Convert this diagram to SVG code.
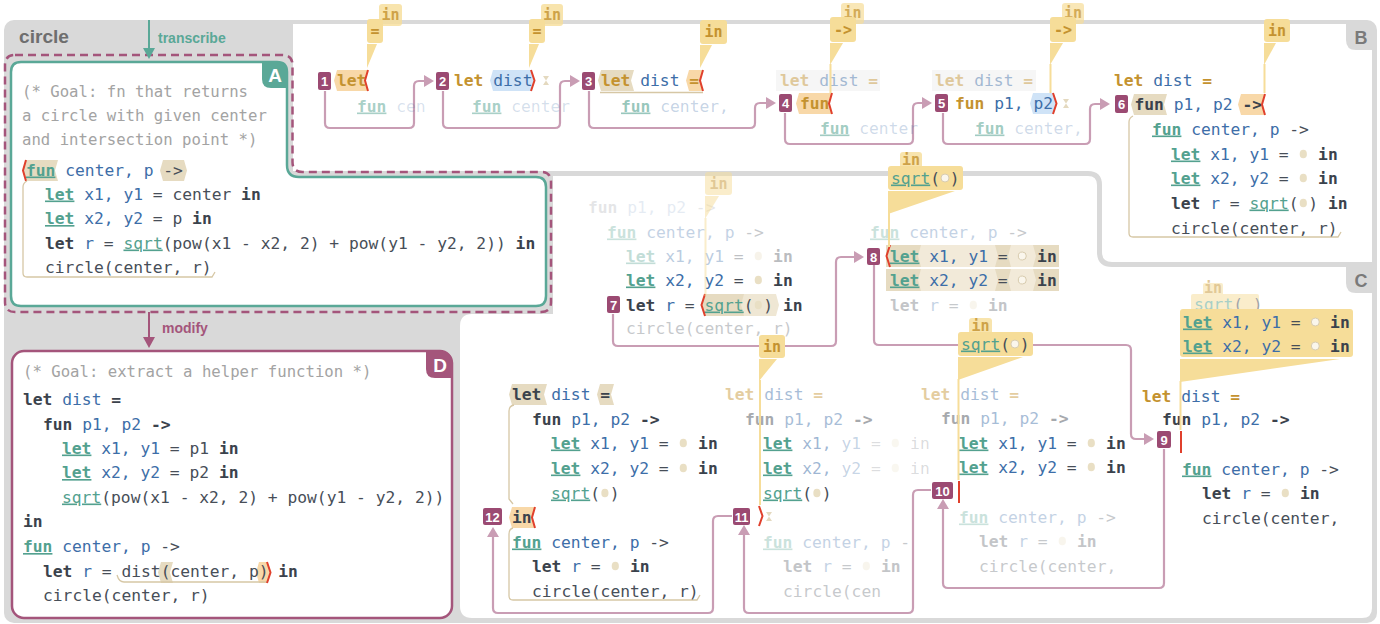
<svg xmlns="http://www.w3.org/2000/svg" width="1380" height="624" viewBox="0 0 1380 624" xml:space="preserve">
<defs>
<style>
text{white-space:pre}
.c{font-family:"DejaVu Sans Mono",monospace;font-size:16.3px;fill:#474e58}
.k{font-weight:bold;fill:#3b424c}
.t{font-weight:bold;fill:#53a18f;text-decoration:underline}
.s{fill:#53a18f;text-decoration:underline}
.i{fill:#3d6ea8}
.g{font-weight:bold;fill:#c4922f}
.cm{font-family:"DejaVu Sans Mono",monospace;font-size:15.65px;fill:#a3a3a3}
.co{fill:#f6dd99}
.ct{font-family:"DejaVu Sans Mono",monospace;font-size:15px;font-weight:bold;fill:#c4922f;text-anchor:middle}
.bd rect{fill:#9b4a72}
.bd text{font-family:"Liberation Sans",Arial,sans-serif;font-size:13px;font-weight:bold;fill:#fff;text-anchor:middle}
.cn{fill:none;stroke:#c99db4;stroke-width:2.2}
.rb{fill:none;stroke:#e0402c;stroke-width:2}
.pe{fill:#f8d8a8}
.tn{fill:#e6dbc1}
.bl{fill:#cfe3f7}
.fr{fill:none;stroke:#d6c7a5;stroke-width:1.3}
.dot{fill:#e9dfc4}
.ring{fill:#faf6ec;stroke:#d8ccaf;stroke-width:1}
.yl{stroke:#f6dd99;stroke-width:2;fill:none}
.hg{fill:#e4d9bf}
.tab{font-family:"Liberation Sans",Arial,sans-serif;font-weight:bold;text-anchor:middle}
</style>
<marker id="ah" viewBox="0 0 10 12" refX="6" refY="6" markerWidth="10" markerHeight="12" markerUnits="userSpaceOnUse" orient="auto"><path d="M0,0 L10,6 L0,12 z" fill="#c99db4"/></marker>
</defs>
<rect width="1380" height="624" fill="#ffffff"/>
<g id="panels">
<rect x="4" y="20" width="1373" height="603" rx="10" fill="#d9d9d9"/>
<path d="M293,24 H1362 Q1372,24 1372,34 V608 Q1372,618 1362,618 H472 Q460,618 460,606 V326 Q460,314 472,314 H553 V171 H293 Z" fill="#ffffff"/>
<path d="M293,173.5 H1088 Q1099.5,173.5 1099.5,185 V252 Q1099.5,264.5 1112,264.5 H1372" fill="none" stroke="#d9d9d9" stroke-width="5"/>
<path d="M1346,24 H1372 V50 H1356 Q1346,50 1346,40 Z" fill="#d9d9d9"/>
<text class="tab" x="1361" y="44" font-size="18" fill="#7a7a7a">B</text>
<path d="M1346,267 H1372 V293 H1356 Q1346,293 1346,283 Z" fill="#d9d9d9"/>
<text class="tab" x="1361" y="287" font-size="18" fill="#7a7a7a">C</text>
<text x="19" y="43" font-family="Liberation Sans, Arial, sans-serif" font-weight="bold" font-size="18" fill="#6e6e6e" textLength="50" lengthAdjust="spacingAndGlyphs">circle</text>
</g>
<g id="nodeA">
<path d="M21,62 H277 Q287,62 287,72 V165 Q287,177 299,177 H536 Q546,177 546,187 V296 Q546,306 536,306 H21 Q11,306 11,296 V72 Q11,62 21,62 Z" fill="#ffffff" stroke="#5aa897" stroke-width="2.5"/>
<path d="M15,55 H282 Q292.5,55 292.5,65 V162 Q292.5,172 302.5,172 H541 Q551,172 551,182 V302 Q551,312 541,312 H15 Q5,312 5,302 V65 Q5,55 15,55 Z" fill="none" stroke="#a4557b" stroke-width="2.5" stroke-dasharray="8 5"/>
<path d="M262,62 H277 Q287,62 287,72 V88 H271 Q262,88 262,79 Z" fill="#5aa897"/>
<text class="tab" x="275" y="82" font-size="19" fill="#ffffff">A</text>
<text class="cm" x="22" y="97">(* Goal: fn that returns</text>
<text class="cm" x="22" y="121">a circle with given center</text>
<text class="cm" x="22" y="145">and intersection point *)</text>
<polygon class="tn" points="23,170.5 26,160 58,160 55,170.5 58,181 26,181"/>
<polygon class="tn" points="160,170.5 163,160 184,160 187,170.5 184,181 163,181"/>
<polyline class="rb" points="26,160 23,170.5 26,181"/>
<path class="fr" d="M27,181 Q23,183 23,187 V273 Q23,277 27,277 H212 L215,272"/>
<text class="c" x="26" y="175.5"><tspan class="t">fun</tspan> <tspan class="i">center, p</tspan> -&gt;</text>
<text class="c" x="45" y="199.5"><tspan class="t">let</tspan> <tspan class="i">x1, y1</tspan> = center <tspan class="k">in</tspan></text>
<text class="c" x="45" y="224"><tspan class="t">let</tspan> <tspan class="i">x2, y2</tspan> = p <tspan class="k">in</tspan></text>
<text class="c" x="45" y="248.5"><tspan class="k">let</tspan> <tspan class="i">r</tspan> = <tspan class="s">sqrt</tspan>(pow(x1 - x2, 2) + pow(y1 - y2, 2)) <tspan class="k">in</tspan></text>
<text class="c" x="45" y="273">circle(center, r)</text>
</g>
<g id="nodeD">
<rect x="12" y="351" width="440" height="267" rx="12" fill="#ffffff" stroke="#a4557b" stroke-width="2.5"/>
<path d="M426,351 H440 Q452,351 452,363 V378 H435 Q426,378 426,369 Z" fill="#a4557b"/>
<text class="tab" x="440" y="372" font-size="19" fill="#ffffff">D</text>
<text class="cm" x="23" y="377">(* Goal: extract a helper function *)</text>
<text class="c" x="23" y="404.5"><tspan class="k">let</tspan> <tspan class="i">dist</tspan> <tspan class="k">=</tspan></text>
<text class="c" x="43" y="429.5"><tspan class="k">fun</tspan> <tspan class="i">p1, p2</tspan> <tspan class="k">-&gt;</tspan></text>
<text class="c" x="62" y="453.5"><tspan class="t">let</tspan> <tspan class="i">x1, y1</tspan> = p1 <tspan class="k">in</tspan></text>
<text class="c" x="62" y="478"><tspan class="t">let</tspan> <tspan class="i">x2, y2</tspan> = p2 <tspan class="k">in</tspan></text>
<text class="c" x="62" y="502.5"><tspan class="s">sqrt</tspan>(pow(x1 - x2, 2) + pow(y1 - y2, 2))</text>
<text class="c" x="23" y="527"><tspan class="k">in</tspan></text>
<text class="c" x="23" y="552"><tspan class="t">fun</tspan> <tspan class="i">center, p</tspan> -&gt;</text>
<polygon class="tn" points="158,572.5 161,562 173,562 170,572.5 173,583 161,583"/>
<polygon class="pe" points="256,572.5 259,562 267,562 270,572.5 267,583 259,583"/>
<path class="fr" d="M117,575 Q119,582 124,582 H268"/>
<polyline class="rb" points="267,562 270.5,572.5 267,583"/>
<text class="c" x="43" y="576.5"><tspan class="k">let</tspan> <tspan class="i">r</tspan> = dist(center, p) <tspan class="k">in</tspan></text>
<text class="c" x="43" y="601">circle(center, r)</text>
</g>
<g id="connectors">
<path d="M149,20 V49" stroke="#5aa897" stroke-width="2"/>
<polygon points="143,48 155,48 149,59" fill="#5aa897"/>
<text x="158" y="43" font-family="Liberation Sans, Arial, sans-serif" font-weight="bold" font-size="14" fill="#5aa897">transcribe</text>
<path d="M149,312 V338" stroke="#a4557b" stroke-width="2"/>
<polygon points="143,337 155,337 149,348" fill="#a4557b"/>
<text x="162" y="333" font-family="Liberation Sans, Arial, sans-serif" font-weight="bold" font-size="14" fill="#a4557b">modify</text>
<path class="cn" marker-end="url(#ah)" d="M325,91 V123 Q325,128 330,128 H409 Q414,128 414,123 V86 Q414,81 419,81 H430"/>
<path class="cn" marker-end="url(#ah)" d="M443,91 V123 Q443,128 448,128 H555 Q560,128 560,123 V86 Q560,81 565,81 H576"/>
<path class="cn" marker-end="url(#ah)" d="M589,91 V123 Q589,128 594,128 H750 Q755,128 755,123 V108 Q755,103 760,103 H772"/>
<path class="cn" marker-end="url(#ah)" d="M785,113 V139 Q785,144 790,144 H908 Q913,144 913,139 V108 Q913,103 918,103 H928"/>
<path class="cn" marker-end="url(#ah)" d="M943,113 V139 Q943,144 948,144 H1085 Q1090,144 1090,139 V109 Q1090,104 1095,104 H1106"/>
<path class="cn" marker-end="url(#ah)" d="M613,314 V341 Q613,346 618,346 H831 Q836,346 836,341 V262 Q836,257 841,257 H860"/>
<path class="cn" marker-end="url(#ah)" d="M874,265 V340 Q874,345 879,345 H1126 Q1131,345 1131,350 V434 Q1131,439 1136,439 H1150"/>
<path class="cn" marker-end="url(#ah)" d="M1164,449 V583 Q1164,588 1159,588 H948 Q943,588 943,583 V503"/>
<path class="cn" marker-end="url(#ah)" d="M931,490 H918 Q913,490 913,495 V608 Q913,613 908,613 H749 Q744,613 744,608 V529"/>
<path class="cn" marker-end="url(#ah)" d="M732,516 H718 Q713,516 713,521 V608 Q713,613 708,613 H498 Q493,613 493,608 V531"/>
</g>
<g id="step1">
<polygon class="pe" points="334,80.5 337,70 368,70 365,80.5 368,91 337,91"/>
<text class="c" x="337" y="86"><tspan class="g">let</tspan></text>
<polyline class="rb" points="368,70 365,80.5 368,91"/>
<text class="c" x="357" y="111.5"><tspan class="t" fill-opacity=".5">fun</tspan><tspan class="i" fill-opacity=".2"> cen</tspan></text>
<g class="bd"><rect x="318" y="72" width="13" height="18" rx="2"/><text x="324.5" y="86">1</text></g>
<rect class="co" x="379" y="4" width="23" height="22" rx="3" opacity=".8"/>
<text class="ct" x="390.5" y="20" opacity=".8">in</text>
<rect class="co" x="367" y="19" width="16" height="24" rx="3"/>
<text class="ct" x="375" y="36">=</text>
<polygon class="co" points="367,44 377,44 367,68"/>
</g>
<g id="step2">
<polygon class="bl" points="490,80.5 493,70 531,70 534,80.5 531,91 493,91"/>
<text class="c" x="454" y="86"><tspan class="g">let</tspan> <tspan class="i">dist</tspan></text>
<polyline class="rb" points="531,70 534.5,80.5 531,91"/>
<path class="hg" d="M543,76 h6 l-3,4.5 l3,4.5 h-6 l3,-4.5 z"/>
<text class="c" x="472" y="111.5"><tspan class="t" fill-opacity=".5">fun</tspan><tspan class="i" fill-opacity=".22"> center</tspan></text>
<g class="bd"><rect x="436" y="72" width="13" height="18" rx="2"/><text x="442.5" y="86">2</text></g>
<rect class="co" x="541" y="4" width="22" height="22" rx="3" opacity=".8"/>
<text class="ct" x="552" y="20" opacity=".8">in</text>
<rect class="co" x="529" y="19" width="16" height="24" rx="3"/>
<text class="ct" x="537" y="36">=</text>
<polygon class="co" points="529,44 539,44 529,68"/>
</g>
<g id="step3">
<polygon class="tn" points="598,80.5 601,70 634,70 631,80.5 634,91 601,91"/>
<polygon class="pe" points="686,80.5 689,70 703,70 700,80.5 703,91 689,91"/>
<line class="fr" x1="600" y1="92.5" x2="703" y2="92.5"/>
<text class="c" x="601" y="86"><tspan class="g">let</tspan> <tspan class="i">dist</tspan> <tspan class="g">=</tspan></text>
<polyline class="rb" points="703,70 700,80.5 703,91"/>
<text class="c" x="621" y="111.5"><tspan class="t" fill-opacity=".6">fun</tspan><tspan class="i" fill-opacity=".3"> center,</tspan></text>
<g class="bd"><rect x="582" y="72" width="13" height="18" rx="2"/><text x="588.5" y="86">3</text></g>
<rect class="co" x="700" y="20" width="27" height="24" rx="3"/>
<text class="ct" x="713.5" y="37">in</text>
<polygon class="co" points="700,45 712,45 700,68"/>
</g>
<g id="step4">
<rect x="776" y="70" width="104" height="21" fill="#f6f6f6"/>
<text class="c" x="780" y="86" opacity=".45"><tspan class="g">let</tspan> <tspan class="i">dist</tspan> <tspan class="g">=</tspan></text>
<polygon class="pe" points="796,103.5 799,93 832,93 829,103.5 832,114 799,114"/>
<text class="c" x="800" y="109"><tspan class="g">fun</tspan></text>
<polyline class="rb" points="832,93 829,103.5 832,114"/>
<text class="c" x="820" y="133.5"><tspan class="t" fill-opacity=".55">fun</tspan><tspan class="i" fill-opacity=".25"> center</tspan></text>
<g class="bd"><rect x="779" y="94" width="13" height="18" rx="2"/><text x="785.5" y="108">4</text></g>
<rect class="co" x="841" y="3" width="23" height="21" rx="3" opacity=".7"/>
<text class="ct" x="852.5" y="18" opacity=".7">in</text>
<rect class="co" x="830" y="17" width="26" height="25" rx="3"/>
<text class="ct" x="843" y="34.5">-&gt;</text>
<polygon class="co" points="830,43 843,43 830,65"/>
<line class="yl" x1="830.5" y1="64" x2="830.5" y2="93"/>
</g>
<g id="step5">
<rect x="932" y="70" width="104" height="21" fill="#f6f6f6"/>
<text class="c" x="935" y="86" opacity=".45"><tspan class="g">let</tspan> <tspan class="i">dist</tspan> <tspan class="g">=</tspan></text>
<polygon class="bl" points="1030,103.5 1033,93 1053,93 1056,103.5 1053,114 1033,114"/>
<text class="c" x="955" y="109"><tspan class="g">fun</tspan> <tspan class="i">p1, p2</tspan></text>
<polyline class="rb" points="1053,93 1056.5,103.5 1053,114"/>
<path class="hg" d="M1063,99 h6 l-3,4.5 l3,4.5 h-6 l3,-4.5 z"/>
<text class="c" x="975" y="133.5"><tspan class="t" fill-opacity=".55">fun</tspan><tspan class="i" fill-opacity=".25"> center,</tspan></text>
<g class="bd"><rect x="935" y="94" width="13" height="18" rx="2"/><text x="941.5" y="108">5</text></g>
<rect class="co" x="1062" y="3" width="22" height="21" rx="3" opacity=".7"/>
<text class="ct" x="1073" y="18" opacity=".7">in</text>
<rect class="co" x="1050" y="17" width="26" height="25" rx="3"/>
<text class="ct" x="1063" y="34.5">-&gt;</text>
<polygon class="co" points="1050,43 1063,43 1050,65"/>
<line class="yl" x1="1050.5" y1="64" x2="1050.5" y2="93"/>
</g>
<g id="step6">
<text class="c" x="1114" y="86"><tspan class="g">let</tspan> <tspan class="i">dist</tspan> <tspan class="g">=</tspan></text>
<polygon class="tn" points="1131,104.5 1134,94 1167,94 1164,104.5 1167,115 1134,115"/>
<polygon class="pe" points="1238,104.5 1241,94 1265,94 1262,104.5 1265,115 1241,115"/>
<text class="c" x="1134.5" y="110"><tspan class="k">fun</tspan> <tspan class="i">p1, p2</tspan> <tspan class="k">-&gt;</tspan></text>
<polyline class="rb" points="1265,94 1262,104.5 1265,115"/>
<path class="fr" d="M1133,116 Q1129,118 1129,122 V233 Q1129,237 1133,237 H1338 L1341,232"/>
<text class="c" x="1152" y="134.5"><tspan class="t">fun</tspan> <tspan class="i">center, p</tspan> -&gt;</text>
<text class="c" x="1171" y="159.5"><tspan class="t">let</tspan> <tspan class="i">x1, y1</tspan> = &#160; <tspan class="k">in</tspan></text>
<text class="c" x="1171" y="183.5"><tspan class="t">let</tspan> <tspan class="i">x2, y2</tspan> = &#160; <tspan class="k">in</tspan></text>
<text class="c" x="1171" y="208.5"><tspan class="k">let</tspan> <tspan class="i">r</tspan> = <tspan class="s">sqrt</tspan>(&#160;) <tspan class="k">in</tspan></text>
<text class="c" x="1171" y="233.5">circle(center, r)</text>
<ellipse class="dot" cx="1303.3" cy="154" rx="3.6" ry="4.3"/>
<ellipse class="dot" cx="1303.3" cy="178" rx="3.6" ry="4.3"/>
<ellipse class="dot" cx="1303.3" cy="203" rx="3.6" ry="4.3"/>
<g class="bd"><rect x="1115" y="95" width="13" height="18" rx="2"/><text x="1121.5" y="109">6</text></g>
<rect class="co" x="1264" y="19" width="26" height="23" rx="3"/>
<text class="ct" x="1277" y="36">in</text>
<polygon class="co" points="1264,43 1276,43 1264,65"/>
<line class="yl" x1="1264.5" y1="64" x2="1264.5" y2="93"/>
</g>
<g id="step7">
<text class="c" x="588" y="212.5" opacity=".13"><tspan class="k">fun</tspan> <tspan class="i">p1, p2</tspan> -&gt;</text>
<text class="c" x="607" y="237.5" opacity=".3"><tspan class="t">fun</tspan> <tspan class="i">center, p</tspan> -&gt;</text>
<g opacity=".35"><text class="c" x="626" y="261.5"><tspan class="t">let</tspan> <tspan class="i">x1, y1</tspan> = &#160; <tspan class="k">in</tspan></text><ellipse class="dot" cx="758.3" cy="256" rx="3.6" ry="4.3"/></g>
<text class="c" x="626" y="285.5"><tspan class="t">let</tspan> <tspan class="i">x2, y2</tspan> = &#160; <tspan class="k">in</tspan></text>
<ellipse class="dot" cx="758.3" cy="280" rx="3.6" ry="4.3"/>
<polygon fill="#efe7d4" points="702,305 705,294 776,294 779,305 776,316 705,316"/>
<polygon class="tn" points="702,305 705,294 744,294 741,305 744,316 705,316"/>
<text class="c" x="626" y="310.5"><tspan class="k">let</tspan> <tspan class="i">r</tspan> = <tspan class="s">sqrt</tspan>(&#160;) <tspan class="k">in</tspan></text>
<ellipse class="dot" cx="758.3" cy="305" rx="3.6" ry="4.3"/>
<polyline class="rb" points="705,294 701.5,305 705,316"/>
<text class="c" x="626" y="334" opacity=".3">circle(center, r)</text>
<g class="bd"><rect x="607" y="296" width="13" height="17" rx="2"/><text x="613.5" y="309.5">7</text></g>
<g opacity=".5">
<rect class="co" x="705" y="172" width="27" height="23" rx="3"/>
<text class="ct" x="718.5" y="189">in</text>
<polygon class="co" points="705,196 719,196 705,219"/>
<line class="yl" x1="705.5" y1="218" x2="705.5" y2="296"/>
</g>
</g>
<g id="step8">
<text class="c" x="870" y="237.5" opacity=".3"><tspan class="t">fun</tspan> <tspan class="i">center, p</tspan> -&gt;</text>
<rect x="886" y="245" width="173" height="22" fill="#f2ead9"/>
<polygon class="tn" points="886,245 921,245 918,256 921,267 886,267"/>
<polygon class="tn" points="995,245 1011,245 1008,256 1011,267 995,267 998,256"/>
<polygon class="tn" points="1033,245 1059,245 1059,267 1033,267 1036,256"/>
<rect x="886" y="269" width="173" height="22" fill="#f2ead9"/>
<polygon class="tn" points="886,269 921,269 918,280 921,291 886,291"/>
<polygon class="tn" points="995,269 1011,269 1008,280 1011,291 995,291 998,280"/>
<polygon class="tn" points="1033,269 1059,269 1059,291 1033,291 1036,280"/>
<text class="c" x="890" y="261.5"><tspan class="t">let</tspan> <tspan class="i">x1, y1</tspan> = &#160; <tspan class="k">in</tspan></text>
<text class="c" x="890" y="285.5"><tspan class="t">let</tspan> <tspan class="i">x2, y2</tspan> = &#160; <tspan class="k">in</tspan></text>
<circle class="ring" cx="1022.3" cy="256" r="4"/>
<circle class="ring" cx="1022.3" cy="280" r="4"/>
<polyline class="rb" points="890,245 886.5,256 890,267"/>
<g opacity=".3"><text class="c" x="890" y="310.5"><tspan class="k">let</tspan> <tspan class="i">r</tspan> = &#160; <tspan class="k">in</tspan></text><ellipse class="dot" cx="973.3" cy="305" rx="3.6" ry="4.3"/></g>
<g class="bd"><rect x="867" y="248" width="13" height="17" rx="2"/><text x="873.5" y="261.5">8</text></g>
<rect class="co" x="900" y="152" width="22" height="20" rx="3" opacity=".8"/>
<text class="ct" x="911" y="165" font-size="13" opacity=".8">in</text>
<rect class="co" x="888" y="166" width="75" height="24" rx="3"/>
<text class="c" x="891" y="183.5"><tspan class="s">sqrt</tspan>(&#160;)</text>
<circle class="ring" cx="945" cy="178" r="4"/>
<polygon class="co" points="888,191 955,191 888,214"/>
<line class="yl" x1="889" y1="213" x2="889" y2="247"/>
</g>
<g id="step9">
<text class="c" x="1142" y="401.5"><tspan class="g">let</tspan> <tspan class="i">dist</tspan> <tspan class="g">=</tspan></text>
<text class="c" x="1162" y="424.5"><tspan class="k">fun</tspan> <tspan class="i">p1, p2</tspan> <tspan class="k">-&gt;</tspan></text>
<line x1="1181" y1="431" x2="1181" y2="453" stroke="#e0402c" stroke-width="2"/>
<text class="c" x="1182" y="474.5"><tspan class="t">fun</tspan> <tspan class="i">center, p</tspan> -&gt;</text>
<text class="c" x="1202" y="498.5"><tspan class="k">let</tspan> <tspan class="i">r</tspan> = &#160; <tspan class="k">in</tspan></text>
<ellipse class="dot" cx="1285.3" cy="493" rx="3.6" ry="4.3"/>
<text class="c" x="1202" y="523.5">circle(center,</text>
<g class="bd"><rect x="1157" y="431" width="14" height="17" rx="2"/><text x="1164" y="444.5">9</text></g>
<g opacity=".5">
<rect class="co" x="1203" y="283" width="20" height="14" rx="2"/>
<text class="ct" x="1213" y="293" font-size="11">in</text>
<rect class="co" x="1191" y="294" width="68" height="18" rx="2"/>
<text class="c" x="1194" y="310" font-size="14.5"><tspan class="s">sqrt</tspan>(&#160;)</text>
</g>
<rect class="co" x="1180" y="309" width="173" height="48" rx="3"/>
<text class="c" x="1183" y="327.5"><tspan class="t">let</tspan> <tspan class="i">x1, y1</tspan> = &#160; <tspan class="k">in</tspan></text>
<text class="c" x="1183" y="351.5"><tspan class="t">let</tspan> <tspan class="i">x2, y2</tspan> = &#160; <tspan class="k">in</tspan></text>
<circle class="ring" cx="1315.3" cy="322" r="4"/>
<circle class="ring" cx="1315.3" cy="346" r="4"/>
<polygon class="co" points="1180,359 1340,359 1180,382"/>
<line class="yl" x1="1180.5" y1="381" x2="1180.5" y2="430"/>
</g>
<g id="step10">
<text class="c" x="921" y="399.5" opacity=".45"><tspan class="g">let</tspan> <tspan class="i">dist</tspan> <tspan class="g">=</tspan></text>
<text class="c" x="941" y="423.5" opacity=".45"><tspan class="k">fun</tspan> <tspan class="i">p1, p2</tspan> <tspan class="k">-&gt;</tspan></text>
<text class="c" x="959" y="448.5"><tspan class="t">let</tspan> <tspan class="i">x1, y1</tspan> = &#160; <tspan class="k">in</tspan></text>
<text class="c" x="959" y="472.5"><tspan class="t">let</tspan> <tspan class="i">x2, y2</tspan> = &#160; <tspan class="k">in</tspan></text>
<ellipse class="dot" cx="1091.3" cy="443" rx="3.6" ry="4.3"/>
<ellipse class="dot" cx="1091.3" cy="467" rx="3.6" ry="4.3"/>
<line x1="959" y1="481" x2="959" y2="503" stroke="#e0402c" stroke-width="2"/>
<g opacity=".3">
<text class="c" x="959" y="522.5"><tspan class="t">fun</tspan> <tspan class="i">center, p</tspan> -&gt;</text>
<text class="c" x="979" y="546.5"><tspan class="k">let</tspan> <tspan class="i">r</tspan> = &#160; <tspan class="k">in</tspan></text>
<ellipse class="dot" cx="1062.3" cy="541" rx="3.6" ry="4.3"/>
<text class="c" x="979" y="571.5">circle(center,</text>
</g>
<g class="bd"><rect x="932" y="482" width="21" height="17" rx="2"/><text x="942.5" y="495.5">10</text></g>
<rect class="co" x="969" y="318" width="23" height="18" rx="3" opacity=".8"/>
<text class="ct" x="980.5" y="331" font-size="13" opacity=".8">in</text>
<rect class="co" x="958" y="332" width="75" height="24" rx="3"/>
<text class="c" x="961" y="349.5"><tspan class="s">sqrt</tspan>(&#160;)</text>
<circle class="ring" cx="1014.9" cy="344" r="4"/>
<polygon class="co" points="958,357 1023,357 958,380"/>
<line class="yl" x1="958.5" y1="379" x2="958.5" y2="480"/>
</g>
<g id="step11">
<text class="c" x="725" y="399.5" opacity=".45"><tspan class="g">let</tspan> <tspan class="i">dist</tspan> <tspan class="g">=</tspan></text>
<text class="c" x="745" y="424.5" opacity=".45"><tspan class="k">fun</tspan> <tspan class="i">p1, p2</tspan> <tspan class="k">-&gt;</tspan></text>
<text class="c" x="763" y="448.5"><tspan class="t">let</tspan><tspan fill-opacity=".5"> </tspan><tspan class="i" fill-opacity=".5">x1,</tspan><tspan class="i" fill-opacity=".3"> y1</tspan><tspan fill-opacity=".2"> = &#160; in</tspan></text>
<text class="c" x="763" y="473.5"><tspan class="t">let</tspan><tspan fill-opacity=".5"> </tspan><tspan class="i" fill-opacity=".5">x2,</tspan><tspan class="i" fill-opacity=".3"> y2</tspan><tspan fill-opacity=".2"> = &#160; in</tspan></text>
<ellipse class="dot" cx="895.3" cy="443" rx="3.6" ry="4.3" opacity=".25"/>
<ellipse class="dot" cx="895.3" cy="468" rx="3.6" ry="4.3" opacity=".25"/>
<text class="c" x="763" y="498.5"><tspan class="s">sqrt</tspan>(&#160;)</text>
<ellipse class="dot" cx="816.9" cy="493" rx="3.6" ry="4.3"/>
<polyline class="rb" points="759,506 762.5,516 759,526"/>
<path class="hg" d="M766,512 h6 l-3,4.5 l3,4.5 h-6 l3,-4.5 z"/>
<g opacity=".3">
<text class="c" x="763" y="547.5"><tspan class="t">fun</tspan> <tspan class="i">center, p</tspan> -</text>
<text class="c" x="783" y="571.5"><tspan class="k">let</tspan> <tspan class="i">r</tspan> = &#160; <tspan class="k">in</tspan></text>
<ellipse class="dot" cx="866.3" cy="566" rx="3.6" ry="4.3"/>
<text class="c" x="783" y="596.5">circle(cen</text>
</g>
<g class="bd"><rect x="733" y="508" width="17" height="17" rx="2"/><text x="741.5" y="521.5">11</text></g>
<rect class="co" x="759" y="335" width="26" height="23" rx="3"/>
<text class="ct" x="772" y="352">in</text>
<polygon class="co" points="759,359 777,359 759,381"/>
<line class="yl" x1="760" y1="380" x2="760" y2="505"/>
</g>
<g id="step12">
<polygon class="tn" points="509,394.5 512,384 547,384 544,394.5 547,405 512,405"/>
<polygon class="tn" points="597,394.5 600,384 614,384 611,394.5 614,405 600,405"/>
<path class="fr" d="M514,405 Q509,406 509,411 V499 L513,504"/>
<text class="c" x="512" y="400"><tspan class="k">let</tspan> <tspan class="i">dist</tspan> <tspan class="k">=</tspan></text>
<text class="c" x="532" y="424.5"><tspan class="k">fun</tspan> <tspan class="i">p1, p2</tspan> <tspan class="k">-&gt;</tspan></text>
<text class="c" x="551" y="448.5"><tspan class="t">let</tspan> <tspan class="i">x1, y1</tspan> = &#160; <tspan class="k">in</tspan></text>
<text class="c" x="551" y="473.5"><tspan class="t">let</tspan> <tspan class="i">x2, y2</tspan> = &#160; <tspan class="k">in</tspan></text>
<text class="c" x="551" y="498.5"><tspan class="s">sqrt</tspan>(&#160;)</text>
<ellipse class="dot" cx="683.3" cy="443" rx="3.6" ry="4.3"/>
<ellipse class="dot" cx="683.3" cy="468" rx="3.6" ry="4.3"/>
<ellipse class="dot" cx="604.9" cy="493" rx="3.6" ry="4.3"/>
<polygon class="pe" points="509,517.5 512,507 535,507 532,517.5 535,528 512,528"/>
<text class="c" x="512" y="523"><tspan class="k">in</tspan></text>
<polyline class="rb" points="535,507 532,517.5 535,528"/>
<path class="fr" d="M513,528 Q509,529 509,534 V596 Q509,600 513,600 H697 L700,595"/>
<text class="c" x="512" y="547.5"><tspan class="t">fun</tspan> <tspan class="i">center, p</tspan> -&gt;</text>
<text class="c" x="532" y="571.5"><tspan class="k">let</tspan> <tspan class="i">r</tspan> = &#160; <tspan class="k">in</tspan></text>
<ellipse class="dot" cx="615.3" cy="566" rx="3.6" ry="4.3"/>
<text class="c" x="532" y="596.5">circle(center, r)</text>
<g class="bd"><rect x="483" y="508" width="19" height="17" rx="2"/><text x="492.5" y="521.5">12</text></g>
</g>
</svg>
